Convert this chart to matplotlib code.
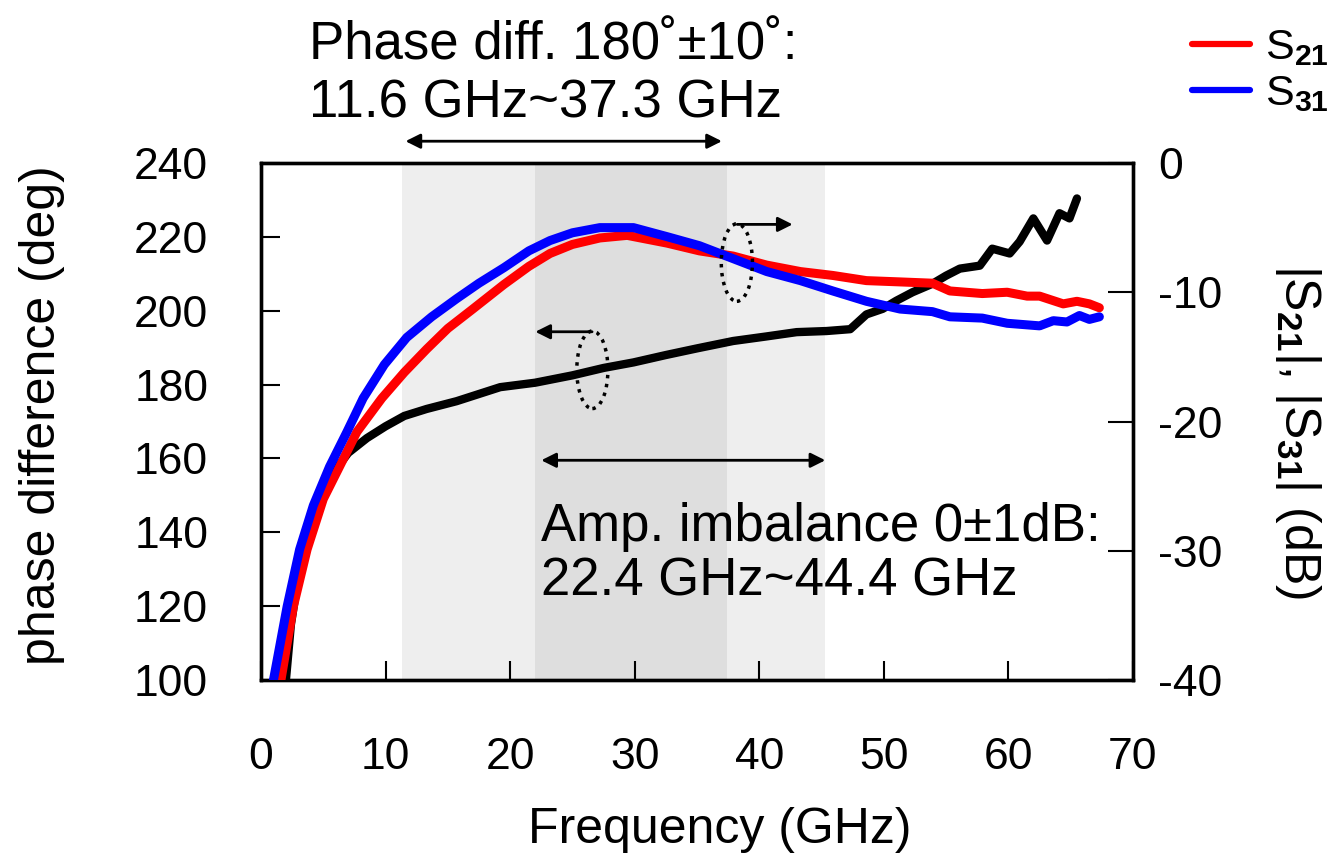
import numpy as np
import matplotlib
matplotlib.use('Agg')
from matplotlib import pyplot as plt
from matplotlib.patches import Ellipse

plt.rcParams['font.family'] = ['Liberation Sans', 'DejaVu Sans']
plt.rcParams['mathtext.fontset'] = 'custom'
plt.rcParams['mathtext.rm'] = 'Liberation Sans'
plt.rcParams['mathtext.it'] = 'Liberation Sans:italic'
plt.rcParams['mathtext.bf'] = 'Liberation Sans:bold'
plt.rcParams['axes.unicode_minus'] = False

# Phase difference S21-S31 (deg), left axis
f_phase = [2.0, 2.4, 3.0, 3.8, 4.8, 6.0, 7.0, 8.5, 10.0, 11.5, 13.3, 15.7, 19.2, 22.0,
           25.0, 27.5, 29.9, 32.5, 35.0, 37.9, 40.5, 43.0, 45.4, 47.3, 48.6, 49.9, 51.0,
           52.3, 53.9, 55.0, 56.1, 57.7, 58.7, 60.1, 60.9, 62.0, 63.1, 64.1, 64.9, 65.5]
phase = [100, 115, 128, 140, 150, 157, 161.5, 165.5, 168.7, 171.5, 173.4, 175.5, 179.3, 180.5,
         182.5, 184.5, 186, 188, 189.8, 191.8, 193, 194.2, 194.5, 195, 199, 200.5, 202.7,
         205, 207.3, 209.5, 211.4, 212.2, 216.8, 215.5, 218.7, 225, 219, 226.4, 225, 230.4]

# |S21| (dB), right axis
f_s21 = [1.6, 2.6, 3.7, 5.0, 6.3, 7.7, 9.7, 11.5, 13.3, 15.0, 17.0, 19.5, 21.5, 23.2, 25.0,
         27.2, 29.4, 32.6, 35.2, 37.9, 40.6, 43.3, 45.9, 48.6, 51.3, 53.9, 55.3, 57.9, 59.9,
         61.5, 62.5, 64.4, 65.5, 66.5, 67.3]
s21 = [-40, -34.3, -29.9, -26, -23.5, -20.8, -18.2, -16.2, -14.4, -12.8, -11.3, -9.4, -8.0,
       -7.0, -6.3, -5.8, -5.6, -6.2, -6.8, -7.2, -7.9, -8.4, -8.7, -9.1, -9.2, -9.3, -9.9,
       -10.1, -10.0, -10.3, -10.3, -10.9, -10.7, -10.9, -11.2]

# |S31| (dB), right axis
f_s31 = [1.0, 2.1, 3.1, 4.2, 5.5, 6.9, 8.2, 9.9, 11.7, 13.7, 15.7, 17.5, 19.5, 21.5, 23.2,
         25.0, 27.2, 29.9, 32.6, 35.2, 37.9, 40.6, 43.3, 45.9, 48.6, 51.3, 53.9, 55.3, 57.9,
         59.9, 62.5, 63.6, 64.7, 65.7, 66.5, 67.3]
s31 = [-40, -34.3, -29.9, -26.5, -23.5, -20.8, -18.2, -15.6, -13.5, -11.9, -10.5, -9.3, -8.1,
       -6.8, -6.0, -5.4, -5.0, -5.0, -5.7, -6.4, -7.4, -8.4, -9.1, -9.9, -10.7, -11.3, -11.5,
       -11.9, -12.0, -12.4, -12.6, -12.2, -12.3, -11.8, -12.1, -11.9]

# bands (GHz) as drawn
phase_band = (11.3, 37.4)
amp_band = (22.0, 45.3)

fig = plt.figure(figsize=(13.32, 8.59), dpi=100)
ax1 = fig.add_axes([261/1332, 1-680/859, 872/1332, 517/859])
ax2 = ax1.twinx()

ax1.plot(f_phase, phase, color='black', lw=6, solid_capstyle='round', zorder=1)
ax1.axvspan(*phase_band, color='black', alpha=0.065, lw=0, zorder=2)
ax1.axvspan(*amp_band, color='black', alpha=0.065, lw=0, zorder=2)

l21, = ax2.plot(f_s21, s21, color='#ff0000', lw=6.5, solid_capstyle='round', zorder=3,
                label=r'S$_{\mathbf{21}}$')
l31, = ax2.plot(f_s31, s31, color='#0000ff', lw=6.5, solid_capstyle='round', zorder=4,
                label=r'S$_{\mathbf{31}}$')

ax1.set_xlim(0, 70)
ax1.set_ylim(100, 240)
ax2.set_ylim(-40, 0)
ax1.set_xticks(range(0, 71, 10))
ax1.set_yticks(range(100, 241, 20))
ax2.set_yticks(range(-40, 1, 10))

for sp in ax1.spines.values():
    sp.set_linewidth(2.4)
for sp in ax2.spines.values():
    sp.set_linewidth(2.4)

ax1.tick_params(axis='x', direction='in', length=14, width=1.5, labelsize=32, pad=41)
ax1.tick_params(axis='y', direction='in', length=14, width=1.5, labelsize=32, pad=38)
ax2.tick_params(axis='y', direction='in', length=18, width=1.5, labelsize=32, pad=18)

# dotted ellipses and direction arrows
ax1.add_patch(Ellipse((26.6, 184), 2.5, 21, fill=False, lw=2.5, ls=(0, (1, 1.6)), zorder=5))
ax1.annotate('', xy=(21.8, 194.3), xytext=(26.8, 194.3),
             arrowprops=dict(arrowstyle='-|>', color='black', lw=2, mutation_scale=22))
ax2.add_patch(Ellipse((38.2, -7.7), 2.5, 6.0, fill=False, lw=2.5, ls=(0, (1, 1.6)), zorder=5))
ax2.annotate('', xy=(42.9, -4.75), xytext=(38.0, -4.75),
             arrowprops=dict(arrowstyle='-|>', color='black', lw=2, mutation_scale=22))

# band arrows
ax1.annotate('', xy=(37.0, 245.9), xytext=(11.6, 245.9), annotation_clip=False,
             arrowprops=dict(arrowstyle='<|-|>', color='black', lw=2, mutation_scale=22,
                             shrinkA=0, shrinkB=0))
ax1.annotate('', xy=(45.3, 159.5), xytext=(22.5, 159.5),
             arrowprops=dict(arrowstyle='<|-|>', color='black', lw=2, mutation_scale=22,
                             shrinkA=0, shrinkB=0))

fig.text(309/1332, 1-59/859, 'Phase diff. 180˚±10˚:', fontsize=38, va='baseline')
fig.text(309/1332, 1-118/859, '11.6 GHz~37.3 GHz', fontsize=38, va='baseline')
fig.text(541/1332, 1-541/859, 'Amp. imbalance 0±1dB:', fontsize=38, va='baseline')
fig.text(541/1332, 1-595/859, '22.4 GHz~44.4 GHz', fontsize=38, va='baseline')

fig.text(720/1332, 1-843/859, 'Frequency (GHz)', fontsize=36, ha='center', va='baseline')
fig.text(42/1332, 1-415/859, 'phase difference (deg)', fontsize=36, rotation=90,
         ha='center', va='center')
fig.text(1298/1332, 1-432/859, r'|S$_{\mathbf{21}}$|, |S$_{\mathbf{31}}$| (dB)', fontsize=36,
         rotation=270, ha='center', va='center')

fig.legend(handles=[l21, l31], loc='upper right', bbox_to_anchor=(1329/1332, 1-28/859),
           frameon=False, fontsize=31, handlelength=1.35, handletextpad=0.35,
           labelspacing=0.15, borderpad=0, borderaxespad=0)
for ln in fig.legends[0].get_lines():
    ln.set_linewidth(4.5)

fig.savefig('out.png', dpi=100)
